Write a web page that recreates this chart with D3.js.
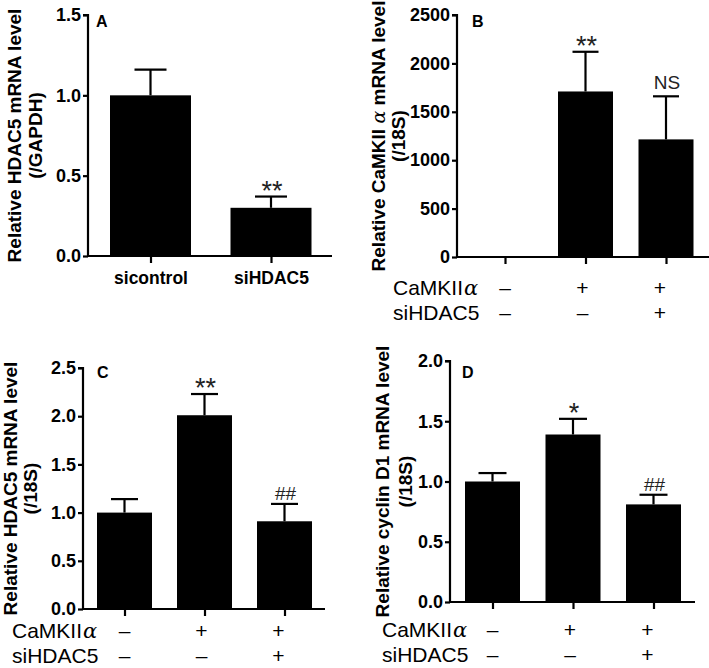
<!DOCTYPE html>
<html>
<head>
<meta charset="utf-8">
<script src="https://cdn.jsdelivr.net/npm/d3@7/dist/d3.min.js"></script>
<style>
  html, body { margin: 0; padding: 0; background: #fff; }
  svg { display: block; }
  text { font-family: Arial, "Liberation Sans", Helvetica, sans-serif; }
</style>
</head>
<body>
<svg id="chart" width="709" height="668"></svg>
<script>
// ---------------- DATA ----------------
// Panel A
const aCategories = ["sicontrol", "siHDAC5"];
const aValues = [1.0, 0.30];
const aErrors = [0.16, 0.07];
const aTicks = [0, 0.5, 1.0, 1.5];
const aMarks = ["", "**"];

// Panel B
const bGroups = ["g1", "g2", "g3"];
const bValues = [0, 1710, 1215];
const bErrors = [0, 410, 445];
const bTicks = [0, 500, 1000, 1500, 2000, 2500];
const bMarks = ["", "**", "NS"];

// Panel C
const cGroups = ["g1", "g2", "g3"];
const cValues = [1.0, 2.01, 0.91];
const cErrors = [0.14, 0.22, 0.18];
const cTicks = [0, 0.5, 1.0, 1.5, 2.0, 2.5];
const cMarks = ["", "**", "##"];

// Panel D
const dGroups = ["g1", "g2", "g3"];
const dValues = [1.0, 1.39, 0.81];
const dErrors = [0.07, 0.13, 0.08];
const dTicks = [0, 0.5, 1.0, 1.5, 2.0];
const dMarks = ["", "*", "##"];

// Treatment rows (B, C, D)
const rowCaMKII = ["–", "+", "+"];
const rowSiHDAC5 = ["–", "–", "+"];

// ---------------- DRAW ----------------
const svg = d3.select("#chart");

function panel(cfg) {
  const g = svg.append("g");
  const y = d3.scaleLinear().domain([0, cfg.max]).range([cfg.yBottom, cfg.yTop]);
  const x = d3.scalePoint().domain(cfg.cats).range([cfg.c0, cfg.c1]);

  // bars
  g.selectAll("rect.bar").data(cfg.values).enter().append("rect")
    .attr("x", (d, i) => x(cfg.cats[i]) - cfg.barW / 2)
    .attr("width", cfg.barW)
    .attr("y", d => y(d))
    .attr("height", d => cfg.yBottom - y(d))
    .attr("fill", "#000");

  // error bars
  cfg.values.forEach((v, i) => {
    const e = cfg.errors[i];
    if (!e) return;
    const cx = x(cfg.cats[i]);
    g.append("line").attr("x1", cx).attr("x2", cx)
      .attr("y1", y(v)).attr("y2", y(v + e))
      .attr("stroke", "#000").attr("stroke-width", 2.2);
    g.append("line").attr("x1", cx - cfg.capW / 2).attr("x2", cx + cfg.capW / 2)
      .attr("y1", y(v + e)).attr("y2", y(v + e))
      .attr("stroke", "#000").attr("stroke-width", 2.2);
  });

  // y axis
  const yAxis = d3.axisLeft(y).tickValues(cfg.ticks).tickSize(5).tickPadding(2)
    .tickFormat(cfg.fmt);
  const ya = g.append("g").attr("transform", `translate(${cfg.axisX},0)`).call(yAxis);
  ya.select(".domain").attr("d", `M-5,${cfg.yTop}H0V${cfg.yBottom}`)
    .attr("stroke", "#000").attr("stroke-width", 2.2).attr("fill", "none");
  ya.selectAll(".tick line").attr("stroke", "#000").attr("stroke-width", 2.2);
  ya.selectAll(".tick text").attr("font-size", 18).attr("font-weight", "bold")
    .attr("fill", "#000").attr("font-family", "Arial, 'Liberation Sans', sans-serif");

  // x axis
  const xAxis = d3.axisBottom(x).tickSize(7).tickFormat(cfg.xLabels ? (d, i) => cfg.xLabels[i] : "");
  const xa = g.append("g").attr("transform", `translate(0,${cfg.yBottom})`).call(xAxis);
  xa.select(".domain").attr("d", `M${cfg.axisX},0H${cfg.xEnd}`)
    .attr("stroke", "#000").attr("stroke-width", 2.2);
  xa.selectAll(".tick line").attr("stroke", "#000").attr("stroke-width", 2.2);
  xa.selectAll(".tick text").attr("font-size", 17.5).attr("font-weight", "bold")
    .attr("fill", "#000").attr("dy", "1.05em")
    .attr("font-family", "Arial, 'Liberation Sans', sans-serif");

  // significance marks
  cfg.marks.forEach((m, i) => {
    if (!m) return;
    const top = y(cfg.values[i] + cfg.errors[i]);
    let size = 27, off = -3, dx = 1;
    if (m === "NS") { size = 19; off = 7; }
    if (m === "##") { size = 19; off = 4; }
    g.append("text").text(m)
      .attr("x", x(cfg.cats[i]) + dx).attr("y", top - off)
      .attr("text-anchor", "middle").attr("font-size", size)
      .attr("fill", "#222");
  });

  // panel letter
  g.append("text").text(cfg.letter)
    .attr("x", cfg.letterX).attr("y", cfg.letterY)
    .attr("font-size", 16).attr("font-weight", "bold").attr("fill", "#000");

  // y label
  const yc = (cfg.yTop + cfg.yBottom) / 2;
  const l1 = g.append("text")
    .attr("transform", `translate(${cfg.lab1X},${yc}) rotate(-90)`)
    .attr("text-anchor", "middle").attr("font-size", 19).attr("font-weight", "bold")
    .attr("fill", "#000");
  cfg.label1.forEach(p => {
    const t = l1.append("tspan").text(p.t);
    if (p.greek) t.attr("font-weight", "normal").attr("font-family", "'DejaVu Serif', serif").attr("font-style", "italic");
  });
  g.append("text")
    .attr("transform", `translate(${cfg.lab2X},${yc}) rotate(-90)`)
    .attr("text-anchor", "middle").attr("font-size", 19).attr("font-weight", "bold")
    .attr("fill", "#000").text(cfg.label2);

  // treatment rows
  if (cfg.rows) {
    const sx = d3.scalePoint().domain(cfg.cats).range([cfg.c0, cfg.c1 - 6]);
    const rowDefs = [
      { name: "CaMKII", greek: "α", vals: rowCaMKII, yy: cfg.row1Y },
      { name: "siHDAC5", greek: "", vals: rowSiHDAC5, yy: cfg.row1Y + 25 }
    ];
    rowDefs.forEach(r => {
      const t = g.append("text").attr("x", cfg.rowX).attr("y", r.yy)
        .attr("font-size", 21).attr("fill", "#000");
      t.append("tspan").text(r.name);
      if (r.greek) t.append("tspan").text(r.greek).attr("font-family", "'DejaVu Serif', serif")
        .attr("font-style", "italic").attr("dx", 1);
      r.vals.forEach((s, i) => {
        g.append("text").text(s)
          .attr("x", sx(cfg.cats[i])).attr("y", r.yy)
          .attr("text-anchor", "middle").attr("font-size", 21).attr("fill", "#000");
      });
    });
  }
}

const f1 = d3.format(".1f");
const f0 = d3.format("d");

panel({
  letter: "A", letterX: 96, letterY: 27,
  cats: aCategories, xLabels: aCategories, values: aValues, errors: aErrors, marks: aMarks,
  ticks: aTicks, max: 1.5, fmt: f1,
  axisX: 88, yTop: 15, yBottom: 256, xEnd: 332, c0: 150.5, c1: 271, barW: 81, capW: 32,
  label1: [{ t: "Relative HDAC5 mRNA level" }], label2: "(/GAPDH)", lab1X: 21, lab2X: 42
});

panel({
  letter: "B", letterX: 472, letterY: 27,
  cats: bGroups, values: bValues, errors: bErrors, marks: bMarks,
  ticks: bTicks, max: 2500, fmt: f0,
  axisX: 457, yTop: 15, yBottom: 257, xEnd: 709, c0: 505, c1: 666, barW: 55, capW: 26,
  label1: [{ t: "Relative CaMKII " }, { t: "α", greek: true }, { t: " mRNA level" }],
  label2: "(/18S)", lab1X: 385, lab2X: 405,
  rows: true, rowX: 393, row1Y: 295
});

panel({
  letter: "C", letterX: 97, letterY: 378,
  cats: cGroups, values: cValues, errors: cErrors, marks: cMarks,
  ticks: cTicks, max: 2.5, fmt: f1,
  axisX: 83, yTop: 368, yBottom: 609, xEnd: 325, c0: 124.5, c1: 284.5, barW: 55, capW: 27,
  label1: [{ t: "Relative HDAC5 mRNA level" }], label2: "(/18S)", lab1X: 17, lab2X: 37,
  rows: true, rowX: 12, row1Y: 638
});

panel({
  letter: "D", letterX: 462, letterY: 378,
  cats: dGroups, values: dValues, errors: dErrors, marks: dMarks,
  ticks: dTicks, max: 2.0, fmt: f1,
  axisX: 450, yTop: 361, yBottom: 602, xEnd: 695, c0: 492.5, c1: 653.5, barW: 55, capW: 28,
  label1: [{ t: "Relative cyclin D1 mRNA level" }], label2: "(/18S)", lab1X: 389, lab2X: 412,
  rows: true, rowX: 382, row1Y: 637
});
</script>
</body>
</html>
